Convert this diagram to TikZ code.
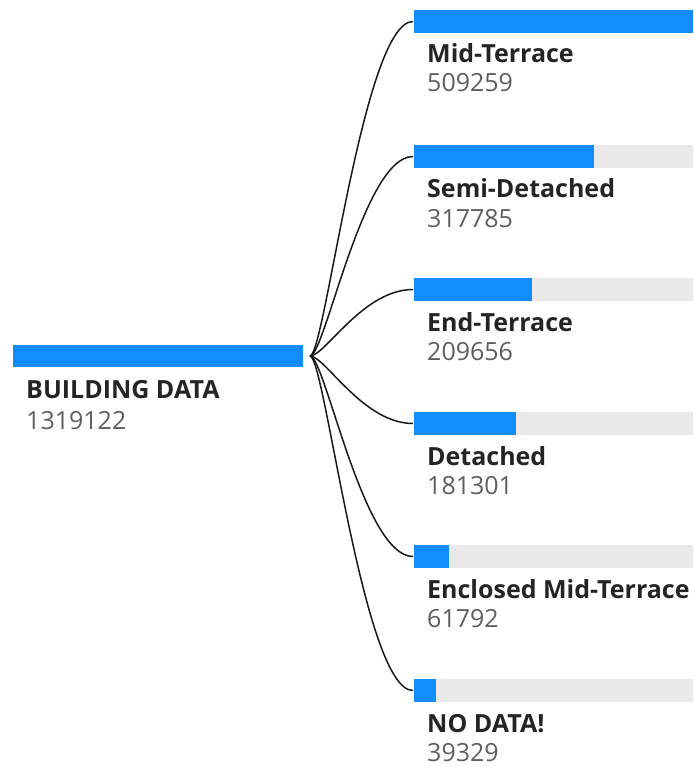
\documentclass[tikz,border=0pt]{standalone}
\usepackage{fontspec}
\usetikzlibrary{calc}
\setmainfont{Open Sans}
\definecolor{pbblue}{HTML}{118DFF}
\definecolor{pbgray}{HTML}{E9E9E9}
\definecolor{labelcol}{HTML}{252423}
\definecolor{numcol}{HTML}{605E5C}
\tikzset{
  barbg/.style={fill=pbgray, draw=none},
  barfg/.style={fill=pbblue, draw=none},
  lbl/.style={anchor=base west, inner sep=0pt, font=\fontsize{25}{25}\selectfont\bfseries, text=labelcol},
  num/.style={anchor=base west, inner sep=0pt, text depth=0pt, font=\fontsize{25}{25}\selectfont, text=numcol},
  link/.style={draw=black!90, line width=1.5pt},
}
\begin{document}
\begin{tikzpicture}[x=1pt,y=-1pt]
\useasboundingbox (0,0) rectangle (693,767);
% root
\fill[barfg] (13,345) rectangle (303,367);
\coordinate (root) at (310,356);
\node[lbl] (rootlbl) at (26,398) {BUILDING DATA};
\node[num] (rootnum) at (26,429) {1319122};
% children: top y, blue end x, label, number, name
\foreach \t/\w/\l/\n/\nm in {
  10/693/Mid-Terrace/509259/c1,
  145/594/Semi-Detached/317785/c2,
  278/532/End-Terrace/209656/c3,
  412/516/Detached/181301/c4,
  545/449/Enclosed Mid-Terrace/61792/c5,
  679/436/NO DATA!/39329/c6}{
  \fill[barbg] (414,\t) rectangle (693,\t+23);
  \fill[barfg] (414,\t) rectangle (\w,\t+23);
  \coordinate (\nm) at (413,\t+11.5);
  \node[lbl] (\nm lbl) at (427,\t+53) {\l};
  \node[num] (\nm num) at (427,\t+82) {\n};
  \draw[link] (root) .. controls ($(root)+(15,0)$) and ($(\nm)+(-50,0)$) .. (\nm);
}
\end{tikzpicture}
\end{document}
